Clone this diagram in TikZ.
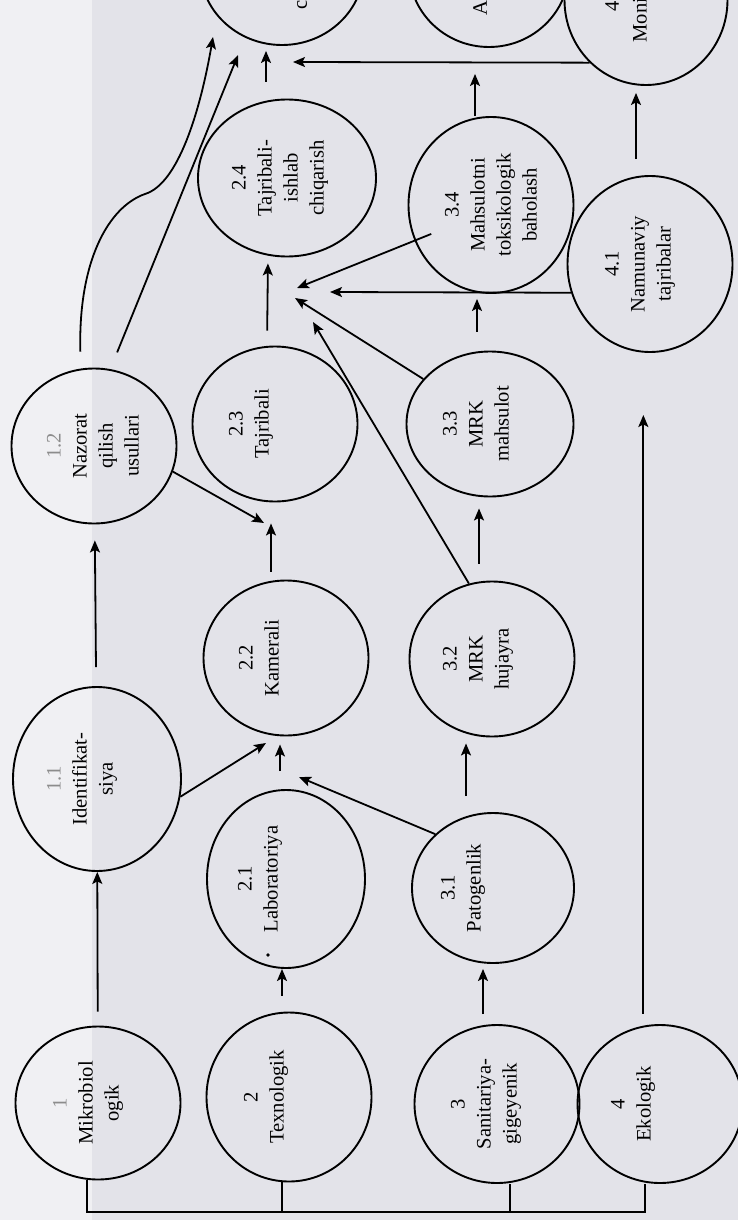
\documentclass[tikz,border=0pt]{standalone}
\usepackage{fontspec}
\setmainfont{Liberation Serif}
\usepackage{xcolor}
\usepackage{tikz}
\usetikzlibrary{positioning,arrows.meta,shapes}

\definecolor{paper}{RGB}{227,227,233}
\definecolor{gutter}{RGB}{240,240,243}
\newcommand{\faded}[1]{\textcolor{black!45}{#1}}

\begin{document}
\begin{tikzpicture}[x=0.5pt, y=-0.5pt,
  bub/.style={ellipse, draw, line width=0.95pt, minimum width=82.5pt, minimum height=77.5pt, inner sep=0pt},
  txt/.style={rotate=90, align=center, inner sep=0pt, font=\fontsize{10.3}{13}\selectfont},
  arr/.style={-{Stealth[length=6pt,width=5pt,inset=1.3pt]}, line width=0.9pt}]
  \useasboundingbox (0,0) rectangle (738,1220);
  \fill[paper] (0,0) rectangle (738,1220);
  \fill[gutter] (0,0) rectangle (92,1220);
  \clip (0,0) rectangle (738,1220);

  % ellipses
  \node[bub, minimum height=76.5pt] (n1) at (98,1103) {};
  \node[bub, minimum width=84pt, minimum height=92pt] (n11) at (97,779) {};
  \node[bub] (n12) at (94,446) {};
  \node[bub, minimum height=84.5pt] (n2) at (289,1097) {};
  \node[bub, minimum width=79pt, minimum height=89pt] (n21) at (286,879) {};
  \node[bub] (n22) at (286,658) {};
  \node[bub] (n23) at (275,424) {};
  \node[bub, minimum width=89pt, minimum height=78.5pt] (n24) at (287,178) {};
  \node[bub, minimum width=82pt, minimum height=78pt] (nC) at (282,-33) {};
  \node[bub, minimum height=79pt] (n3) at (497,1104) {};
  \node[bub, minimum width=81pt, minimum height=75pt] (n31) at (493,888) {};
  \node[bub] (n32) at (492,659) {};
  \node[bub, minimum width=83.5pt, minimum height=72.5pt] (n33) at (490,424) {};
  \node[bub, minimum height=88pt] (n34) at (491,205) {};
  \node[bub, minimum width=80pt, minimum height=78pt] (nA) at (489,-31) {};
  \node[bub, minimum height=79pt] (n4) at (660,1104) {};
  \node[bub, minimum height=88pt] (n41) at (650,264) {};
  \node[bub, minimum width=81.5pt, minimum height=85pt] (n42) at (646,0) {};

  % texts
  \node[txt] (t1) at (88,1103) {\faded{1}\\Mikrobiol\\ogik};
  \node[txt] (t11) at (82,779) {\faded{1.1}\\Identifikat-\\siya};
  \node[txt] (t12) at (93,446) {\faded{1.2}\\Nazorat\\qilish\\usullari};
  \node[txt] (t2) at (266,1097) {2\\Texnologik};
  \node[txt] (t21) at (260,879) {2.1\\Laboratoriya};
  \node[txt] (t22) at (259,658) {2.2\\Kamerali};
  \node[txt] (t23) at (251,424) {2.3\\Tajribali};
  \node[txt] (t24) at (280,178) {2.4\\Tajribali-\\ishlab\\chiqarish};
  \node[txt, anchor=west] (tC) at (302,10) {c};
  \node[txt] (t3) at (486,1104) {3\\Sanitariya-\\gigeyenik};
  \node[txt] (t31) at (463,888) {3.1\\Patogenlik};
  \node[txt] (t32) at (478,659) {3.2\\MRK\\hujayra};
  \node[txt] (t33) at (476,424) {3.3\\MRK\\mahsulot};
  \node[txt] (t34) at (491,205) {3.4\\Mahsulotni\\toksikologik\\baholash};
  \node[txt, anchor=west] (tA) at (480,16) {A};
  \node[txt] (t4) at (633,1104) {4\\Ekologik};
  \node[txt] (t41) at (640,264) {4.1\\Namunaviy\\tajribalar};
  \node[txt, anchor=west] (t42a) at (612,12) {4};
  \node[txt, anchor=west] (t42b) at (640,43) {Moni};
  \fill (268,955) circle (0.9pt);

  % free ends
  \coordinate (inC1) at (213,37);
  \coordinate (inC2) at (238,55);
  \coordinate (inC3) at (293,62);
  \coordinate (in22a) at (266,743);
  \coordinate (in22b) at (299,777);
  \coordinate (in23) at (264,523);
  \coordinate (h1) at (297,288);
  \coordinate (h2) at (330,292);
  \coordinate (h3) at (295,298);
  \coordinate (h4) at (313,322);
  \coordinate (in41) at (643,415);
  \coordinate (base) at (0,1212);

  % bracket
  \coordinate (k1) at ([xshift=-5.5pt]n1.south);
  \coordinate (k2) at ([xshift=-3.5pt]n2.south);
  \coordinate (k3) at ([xshift=6.5pt]n3.south);
  \coordinate (k4) at ([xshift=-7.5pt]n4.south);
  \draw[line width=0.9pt] (k1) -- (k1 |- base) -- (k4 |- base) -- (k4);
  \draw[line width=0.9pt] (k2) -- (k2 |- base);
  \draw[line width=0.9pt] (k3) -- (k3 |- base);

  % first column
  \draw[arr, shorten <=7pt] (n1) -- (n11);
  \draw[arr, shorten <=9.5pt, shorten >=8pt] (n11) -- (n12);
  \draw[arr] (n11.-12) -- (in22a);
  \draw[arr] (n12.-18) -- (in23);
  \draw[arr] ([yshift=8.5pt]n12.100) .. controls (78,262) and (108,207) .. (145,194)
    .. controls (178,184) and (200,112) .. (inC1);
  \draw[arr, shorten <=9pt] (n12.78) -- (inC2);

  % second column
  \draw[arr, shorten <=8pt] ([xshift=-3.5pt]n2.north) -- ([xshift=-2pt]n21.south);
  \draw[arr, shorten <=9pt, shorten >=4pt] ([xshift=-3pt]n21.north) -- ([xshift=-3pt]n22.south);
  \draw[arr, shorten <=4pt, shorten >=10.5pt] ([xshift=-7.5pt]n22.north) -- ([xshift=-2pt]n23.south);
  \draw[arr, shorten <=7.5pt, shorten >=3pt] ([xshift=-4pt]n23.north) -- ([xshift=-9.5pt]n24.south);
  \draw[arr, shorten <=8.5pt, shorten >=2.5pt] ([xshift=-10.5pt]n24.north) -- ([xshift=-8pt]nC.south);

  % third column
  \draw[arr, shorten <=5pt, shorten >=2.5pt] ([xshift=-7pt]n3.north) -- ([xshift=-5pt]n31.south);
  \draw[arr] (n31.137) -- (in22b);
  \draw[arr, shorten <=8pt, shorten >=3pt] ([xshift=-13.5pt]n31.north) -- ([xshift=-13pt]n32.south);
  \draw[arr, shorten <=8.5pt, shorten >=5.5pt] ([xshift=-6.5pt]n32.north) -- ([xshift=-5.5pt]n33.south);
  \draw[arr] (n32.107) -- (h4);
  \draw[arr, shorten <=9.5pt, shorten >=2.5pt] ([xshift=-6.5pt]n33.north) -- ([xshift=-7pt]n34.south);
  \draw[arr] (n33.146) -- (h3);
  \draw[arr, shorten <=-9pt] (n34.205) -- (h1);
  \draw[arr, shorten >=13pt] ([xshift=-8pt]n34.north) -- ([xshift=-7pt]nA.south);

  % fourth column
  \draw[arr, shorten <=6pt] (n4.102) -- (n4.102 |- in41);
  \draw[arr] (n41.200) -- (h2);
  \draw[arr, shorten <=8pt, shorten >=3.5pt] ([xshift=-7pt]n41.north) -- ([xshift=-5pt]n42.south);
  \draw[arr] (n42.228) -- (inC3);
\end{tikzpicture}
\end{document}
